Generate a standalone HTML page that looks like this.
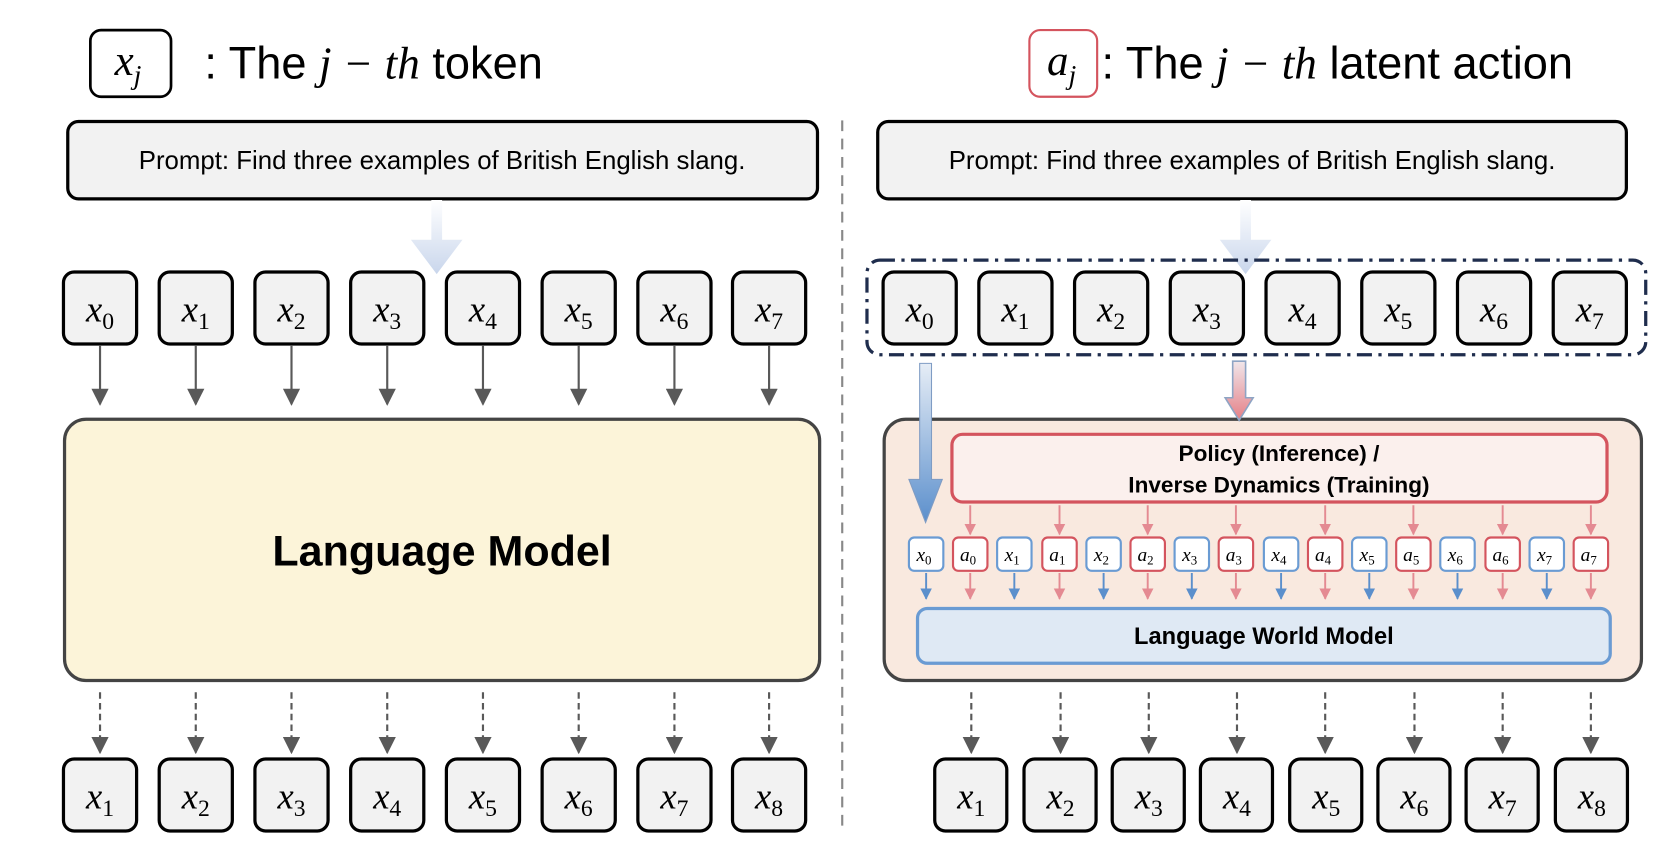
<!DOCTYPE html>
<html><head><meta charset="utf-8"><style>
html,body{margin:0;padding:0;background:#fff;}
svg{display:block;}
.m{font-family:"Liberation Serif",serif;}
.s{font-family:"Liberation Sans","DejaVu Sans",sans-serif;}
</style></head><body>
<svg width="1678" height="860" viewBox="0 0 1560 800" preserveAspectRatio="none" xmlns="http://www.w3.org/2000/svg">
<defs>
<linearGradient id="bg1" x1="0" y1="0" x2="0" y2="1"><stop offset="0" stop-color="#fff"/><stop offset="1" stop-color="#c9d6ec"/></linearGradient>
<linearGradient id="bl" x1="0" y1="0" x2="0" y2="1"><stop offset="0" stop-color="#e6edf6"/><stop offset="1" stop-color="#5b8fcc"/></linearGradient>
<linearGradient id="pk" x1="0" y1="0" x2="0" y2="1"><stop offset="0" stop-color="#f0e6ea"/><stop offset="1" stop-color="#e57f86"/></linearGradient>
<marker id="ah" viewBox="0 0 10 10" refX="9" refY="5" markerWidth="8" markerHeight="8" orient="auto"><path d="M0,0 L10,5 L0,10 z" fill="#595959"/></marker>
<marker id="ab" viewBox="0 0 10 10" refX="9" refY="5" markerWidth="6" markerHeight="6" orient="auto"><path d="M0,0 L10,5 L0,10 z" fill="#5b8fcc"/></marker>
<marker id="ap" viewBox="0 0 10 10" refX="9" refY="5" markerWidth="6" markerHeight="6" orient="auto"><path d="M0,0 L10,5 L0,10 z" fill="#e48a92"/></marker>
</defs>

<!-- legends -->
<rect x="84" y="28" width="75" height="62" rx="10" fill="#fff" stroke="#000" stroke-width="2.5"/>
<text x="119" y="70" class="m" font-size="40" text-anchor="middle"><tspan font-style="italic">x</tspan><tspan font-style="italic" font-size="26" dy="8">j</tspan></text>
<text x="190" y="73" class="s" font-size="42">: The <tspan class="m" font-style="italic">j − th</tspan> token</text>

<rect x="957" y="28" width="63" height="62" rx="10" fill="#fff" stroke="#d4545e" stroke-width="2"/>
<text x="987" y="70" class="m" font-size="40" text-anchor="middle"><tspan font-style="italic">a</tspan><tspan font-style="italic" font-size="26" dy="8">j</tspan></text>
<text x="1024" y="73" class="s" font-size="42">: The <tspan class="m" font-style="italic">j − th</tspan> latent action</text>

<!-- divider -->
<line x1="783" y1="112" x2="783" y2="775" stroke="#888" stroke-width="2" stroke-dasharray="10,7"/>

<!-- prompts -->
<rect x="63" y="113" width="697" height="72" rx="10" fill="#f2f2f2" stroke="#000" stroke-width="3"/>
<text x="411" y="157" class="s" font-size="24" text-anchor="middle">Prompt: Find three examples of British English slang.</text>
<rect x="816" y="113" width="696" height="72" rx="10" fill="#f2f2f2" stroke="#000" stroke-width="3"/>
<text x="1164" y="157" class="s" font-size="24" text-anchor="middle">Prompt: Find three examples of British English slang.</text>

<!-- faded arrows from prompts -->
<path d="M401,186 h10 v37 h19 l-24,32 l-24,-32 h19 z" fill="url(#bg1)"/>
<path d="M1153,186 h10 v37 h19 l-24,32 l-24,-32 h19 z" fill="url(#bg1)"/>

<!-- LEFT top tokens -->
<g fill="#f2f2f2" stroke="#000" stroke-width="3">
<rect x="59" y="253" width="68" height="67" rx="10"/><rect x="148" y="253" width="68" height="67" rx="10"/><rect x="237" y="253" width="68" height="67" rx="10"/><rect x="326" y="253" width="68" height="67" rx="10"/><rect x="415" y="253" width="68" height="67" rx="10"/><rect x="504" y="253" width="68" height="67" rx="10"/><rect x="593" y="253" width="68" height="67" rx="10"/><rect x="681" y="253" width="68" height="67" rx="10"/>
</g>
<g class="m" font-size="34" text-anchor="middle" font-style="italic">
<text x="93" y="299">x<tspan font-style="normal" font-size="22" dy="7">0</tspan></text>
<text x="182" y="299">x<tspan font-style="normal" font-size="22" dy="7">1</tspan></text>
<text x="271" y="299">x<tspan font-style="normal" font-size="22" dy="7">2</tspan></text>
<text x="360" y="299">x<tspan font-style="normal" font-size="22" dy="7">3</tspan></text>
<text x="449" y="299">x<tspan font-style="normal" font-size="22" dy="7">4</tspan></text>
<text x="538" y="299">x<tspan font-style="normal" font-size="22" dy="7">5</tspan></text>
<text x="627" y="299">x<tspan font-style="normal" font-size="22" dy="7">6</tspan></text>
<text x="715" y="299">x<tspan font-style="normal" font-size="22" dy="7">7</tspan></text>
</g>
<g stroke="#595959" stroke-width="2" marker-end="url(#ah)">
<line x1="93" y1="321" x2="93" y2="376"/><line x1="182" y1="321" x2="182" y2="376"/><line x1="271" y1="321" x2="271" y2="376"/><line x1="360" y1="321" x2="360" y2="376"/><line x1="449" y1="321" x2="449" y2="376"/><line x1="538" y1="321" x2="538" y2="376"/><line x1="627" y1="321" x2="627" y2="376"/><line x1="715" y1="321" x2="715" y2="376"/>
</g>

<!-- Language Model -->
<rect x="60" y="390" width="702" height="243" rx="20" fill="#fcf4d9" stroke="#444" stroke-width="3"/>
<text x="411" y="526" class="s" font-size="40" font-weight="bold" text-anchor="middle">Language Model</text>

<!-- left dashed arrows -->
<g stroke="#595959" stroke-width="2" stroke-dasharray="6,4" marker-end="url(#ah)">
<line x1="93" y1="644" x2="93" y2="700"/><line x1="182" y1="644" x2="182" y2="700"/><line x1="271" y1="644" x2="271" y2="700"/><line x1="360" y1="644" x2="360" y2="700"/><line x1="449" y1="644" x2="449" y2="700"/><line x1="538" y1="644" x2="538" y2="700"/><line x1="627" y1="644" x2="627" y2="700"/><line x1="715" y1="644" x2="715" y2="700"/>
</g>

<!-- left bottom tokens -->
<g fill="#f2f2f2" stroke="#000" stroke-width="3">
<rect x="59" y="706" width="68" height="67" rx="10"/><rect x="148" y="706" width="68" height="67" rx="10"/><rect x="237" y="706" width="68" height="67" rx="10"/><rect x="326" y="706" width="68" height="67" rx="10"/><rect x="415" y="706" width="68" height="67" rx="10"/><rect x="504" y="706" width="68" height="67" rx="10"/><rect x="593" y="706" width="68" height="67" rx="10"/><rect x="681" y="706" width="68" height="67" rx="10"/>
</g>
<g class="m" font-size="34" text-anchor="middle" font-style="italic">
<text x="93" y="752">x<tspan font-style="normal" font-size="22" dy="7">1</tspan></text>
<text x="182" y="752">x<tspan font-style="normal" font-size="22" dy="7">2</tspan></text>
<text x="271" y="752">x<tspan font-style="normal" font-size="22" dy="7">3</tspan></text>
<text x="360" y="752">x<tspan font-style="normal" font-size="22" dy="7">4</tspan></text>
<text x="449" y="752">x<tspan font-style="normal" font-size="22" dy="7">5</tspan></text>
<text x="538" y="752">x<tspan font-style="normal" font-size="22" dy="7">6</tspan></text>
<text x="627" y="752">x<tspan font-style="normal" font-size="22" dy="7">7</tspan></text>
<text x="715" y="752">x<tspan font-style="normal" font-size="22" dy="7">8</tspan></text>
</g>

<!-- RIGHT dash-dot container -->
<rect x="806" y="242" width="724" height="88" rx="12" fill="none" stroke="#1f2d4d" stroke-width="3" stroke-dasharray="14,6,3,6"/>
<g fill="#f2f2f2" stroke="#000" stroke-width="3">
<rect x="821" y="253" width="68" height="67" rx="10"/><rect x="910" y="253" width="68" height="67" rx="10"/><rect x="999" y="253" width="68" height="67" rx="10"/><rect x="1088" y="253" width="68" height="67" rx="10"/><rect x="1177" y="253" width="68" height="67" rx="10"/><rect x="1266" y="253" width="68" height="67" rx="10"/><rect x="1355" y="253" width="68" height="67" rx="10"/><rect x="1444" y="253" width="68" height="67" rx="10"/>
</g>
<g class="m" font-size="34" text-anchor="middle" font-style="italic">
<text x="855" y="299">x<tspan font-style="normal" font-size="22" dy="7">0</tspan></text>
<text x="944" y="299">x<tspan font-style="normal" font-size="22" dy="7">1</tspan></text>
<text x="1033" y="299">x<tspan font-style="normal" font-size="22" dy="7">2</tspan></text>
<text x="1122" y="299">x<tspan font-style="normal" font-size="22" dy="7">3</tspan></text>
<text x="1211" y="299">x<tspan font-style="normal" font-size="22" dy="7">4</tspan></text>
<text x="1300" y="299">x<tspan font-style="normal" font-size="22" dy="7">5</tspan></text>
<text x="1389" y="299">x<tspan font-style="normal" font-size="22" dy="7">6</tspan></text>
<text x="1478" y="299">x<tspan font-style="normal" font-size="22" dy="7">7</tspan></text>
</g>

<!-- Right outer box -->
<rect x="822" y="390" width="704" height="243" rx="20" fill="#f9e9df" stroke="#444" stroke-width="3"/>
<!-- policy -->
<rect x="885" y="404" width="609" height="63" rx="10" fill="#fbf0ed" stroke="#d4545e" stroke-width="3"/>
<text x="1189" y="429" class="s" font-size="21" font-weight="bold" text-anchor="middle">Policy (Inference) /</text>
<text x="1189" y="458" class="s" font-size="21" font-weight="bold" text-anchor="middle">Inverse Dynamics (Training)</text>

<!-- big arrows -->
<path d="M855,338 h11 v108 h10 l-15.5,40 l-15.5,-40 h10 z" fill="url(#bl)" stroke="#7f9cc4" stroke-width="1"/>
<path d="M1146,336 h12 v34 h7 l-13,21 l-13,-21 h7 z" fill="url(#pk)" stroke="#8ea4c4" stroke-width="1.5"/>

<!-- pink arrows policy -> a -->
<g stroke="#e48a92" stroke-width="1.8" marker-end="url(#ap)">
<line x1="902" y1="470" x2="902" y2="497"/><line x1="985" y1="470" x2="985" y2="497"/><line x1="1067" y1="470" x2="1067" y2="497"/><line x1="1149" y1="470" x2="1149" y2="497"/><line x1="1232" y1="470" x2="1232" y2="497"/><line x1="1314" y1="470" x2="1314" y2="497"/><line x1="1397" y1="470" x2="1397" y2="497"/><line x1="1479" y1="470" x2="1479" y2="497"/>
</g>

<!-- small tokens -->
<g stroke-width="2" fill="#fff">
<rect x="845" y="500" width="32" height="31" rx="5" stroke="#6a9bd3"/>
<rect x="886" y="500" width="32" height="31" rx="5" stroke="#d4545e"/>
<rect x="927" y="500" width="32" height="31" rx="5" stroke="#6a9bd3"/>
<rect x="969" y="500" width="32" height="31" rx="5" stroke="#d4545e"/>
<rect x="1010" y="500" width="32" height="31" rx="5" stroke="#6a9bd3"/>
<rect x="1051" y="500" width="32" height="31" rx="5" stroke="#d4545e"/>
<rect x="1092" y="500" width="32" height="31" rx="5" stroke="#6a9bd3"/>
<rect x="1133" y="500" width="32" height="31" rx="5" stroke="#d4545e"/>
<rect x="1175" y="500" width="32" height="31" rx="5" stroke="#6a9bd3"/>
<rect x="1216" y="500" width="32" height="31" rx="5" stroke="#d4545e"/>
<rect x="1257" y="500" width="32" height="31" rx="5" stroke="#6a9bd3"/>
<rect x="1298" y="500" width="32" height="31" rx="5" stroke="#d4545e"/>
<rect x="1339" y="500" width="32" height="31" rx="5" stroke="#6a9bd3"/>
<rect x="1381" y="500" width="32" height="31" rx="5" stroke="#d4545e"/>
<rect x="1422" y="500" width="32" height="31" rx="5" stroke="#6a9bd3"/>
<rect x="1463" y="500" width="32" height="31" rx="5" stroke="#d4545e"/>
</g>
<g class="m" font-size="18" text-anchor="middle" font-style="italic">
<text x="859" y="522">x<tspan font-style="normal" font-size="12" dy="3">0</tspan></text>
<text x="900" y="522">a<tspan font-style="normal" font-size="12" dy="3">0</tspan></text>
<text x="941" y="522">x<tspan font-style="normal" font-size="12" dy="3">1</tspan></text>
<text x="983" y="522">a<tspan font-style="normal" font-size="12" dy="3">1</tspan></text>
<text x="1024" y="522">x<tspan font-style="normal" font-size="12" dy="3">2</tspan></text>
<text x="1065" y="522">a<tspan font-style="normal" font-size="12" dy="3">2</tspan></text>
<text x="1106" y="522">x<tspan font-style="normal" font-size="12" dy="3">3</tspan></text>
<text x="1147" y="522">a<tspan font-style="normal" font-size="12" dy="3">3</tspan></text>
<text x="1189" y="522">x<tspan font-style="normal" font-size="12" dy="3">4</tspan></text>
<text x="1230" y="522">a<tspan font-style="normal" font-size="12" dy="3">4</tspan></text>
<text x="1271" y="522">x<tspan font-style="normal" font-size="12" dy="3">5</tspan></text>
<text x="1312" y="522">a<tspan font-style="normal" font-size="12" dy="3">5</tspan></text>
<text x="1353" y="522">x<tspan font-style="normal" font-size="12" dy="3">6</tspan></text>
<text x="1395" y="522">a<tspan font-style="normal" font-size="12" dy="3">6</tspan></text>
<text x="1436" y="522">x<tspan font-style="normal" font-size="12" dy="3">7</tspan></text>
<text x="1477" y="522">a<tspan font-style="normal" font-size="12" dy="3">7</tspan></text>
</g>

<!-- arrows down to LWM -->
<g stroke="#5b8fcc" stroke-width="1.8" marker-end="url(#ab)">
<line x1="861" y1="533" x2="861" y2="557"/><line x1="943" y1="533" x2="943" y2="557"/><line x1="1026" y1="533" x2="1026" y2="557"/><line x1="1108" y1="533" x2="1108" y2="557"/><line x1="1191" y1="533" x2="1191" y2="557"/><line x1="1273" y1="533" x2="1273" y2="557"/><line x1="1355" y1="533" x2="1355" y2="557"/><line x1="1438" y1="533" x2="1438" y2="557"/>
</g>
<g stroke="#e48a92" stroke-width="1.8" marker-end="url(#ap)">
<line x1="902" y1="533" x2="902" y2="557"/><line x1="985" y1="533" x2="985" y2="557"/><line x1="1067" y1="533" x2="1067" y2="557"/><line x1="1149" y1="533" x2="1149" y2="557"/><line x1="1232" y1="533" x2="1232" y2="557"/><line x1="1314" y1="533" x2="1314" y2="557"/><line x1="1397" y1="533" x2="1397" y2="557"/><line x1="1479" y1="533" x2="1479" y2="557"/>
</g>

<!-- LWM -->
<rect x="853" y="566" width="644" height="51" rx="9" fill="#dfe9f4" stroke="#6a9bd3" stroke-width="3"/>
<text x="1175" y="599" class="s" font-size="22" font-weight="bold" text-anchor="middle">Language World Model</text>

<!-- right dashed arrows -->
<g stroke="#595959" stroke-width="2" stroke-dasharray="6,4" marker-end="url(#ah)">
<line x1="903" y1="644" x2="903" y2="700"/><line x1="986" y1="644" x2="986" y2="700"/><line x1="1068" y1="644" x2="1068" y2="700"/><line x1="1150" y1="644" x2="1150" y2="700"/><line x1="1232" y1="644" x2="1232" y2="700"/><line x1="1315" y1="644" x2="1315" y2="700"/><line x1="1397" y1="644" x2="1397" y2="700"/><line x1="1479" y1="644" x2="1479" y2="700"/>
</g>
<g fill="#f2f2f2" stroke="#000" stroke-width="3">
<rect x="869" y="706" width="67" height="67" rx="10"/><rect x="952" y="706" width="67" height="67" rx="10"/><rect x="1034" y="706" width="67" height="67" rx="10"/><rect x="1116" y="706" width="67" height="67" rx="10"/><rect x="1199" y="706" width="67" height="67" rx="10"/><rect x="1281" y="706" width="67" height="67" rx="10"/><rect x="1363" y="706" width="67" height="67" rx="10"/><rect x="1446" y="706" width="67" height="67" rx="10"/>
</g>
<g class="m" font-size="34" text-anchor="middle" font-style="italic">
<text x="903" y="752">x<tspan font-style="normal" font-size="22" dy="7">1</tspan></text>
<text x="986" y="752">x<tspan font-style="normal" font-size="22" dy="7">2</tspan></text>
<text x="1068" y="752">x<tspan font-style="normal" font-size="22" dy="7">3</tspan></text>
<text x="1150" y="752">x<tspan font-style="normal" font-size="22" dy="7">4</tspan></text>
<text x="1233" y="752">x<tspan font-style="normal" font-size="22" dy="7">5</tspan></text>
<text x="1315" y="752">x<tspan font-style="normal" font-size="22" dy="7">6</tspan></text>
<text x="1397" y="752">x<tspan font-style="normal" font-size="22" dy="7">7</tspan></text>
<text x="1480" y="752">x<tspan font-style="normal" font-size="22" dy="7">8</tspan></text>
</g>
</svg>
</body></html>
